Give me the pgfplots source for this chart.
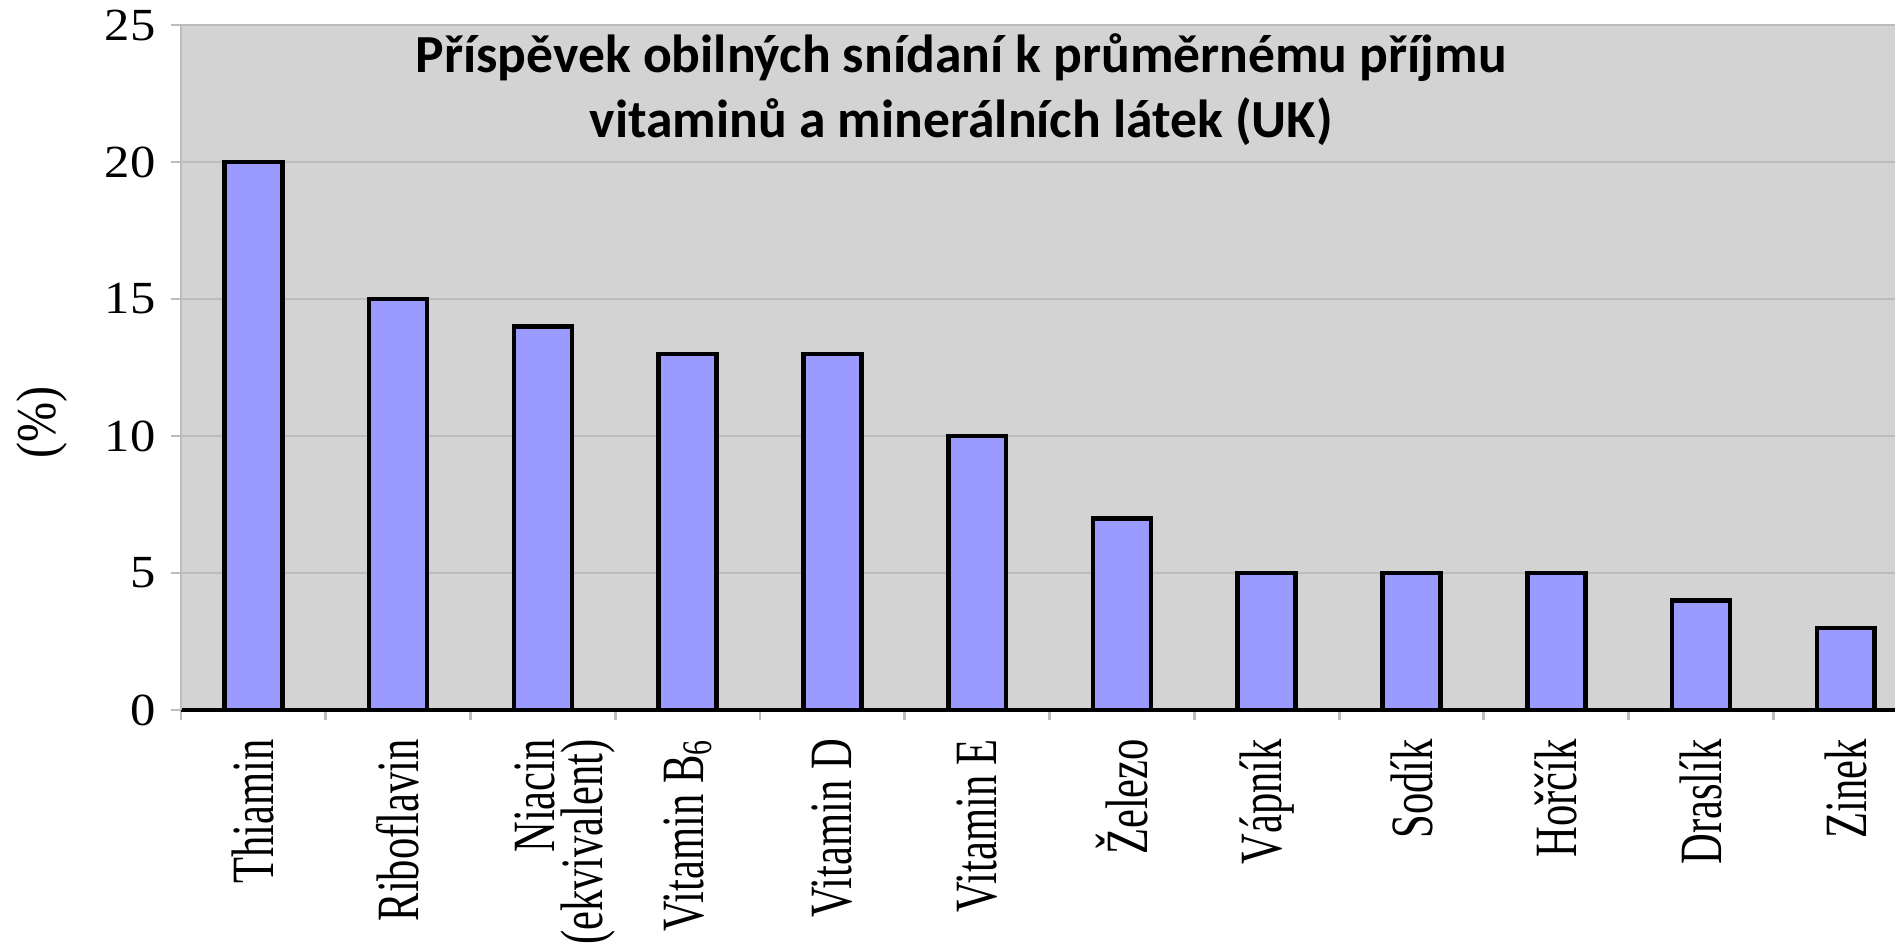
\documentclass[border=0pt]{standalone}
\usepackage{pgfplots}
\pgfplotsset{compat=1.18}
\usepackage{fontspec}
\setmainfont{Liberation Serif}
\newfontfamily\titlefont{Carlito}
\definecolor{plotbg}{RGB}{211,211,211}
\definecolor{barfill}{RGB}{155,155,255}
\definecolor{gridgray}{RGB}{188,188,188}

\tikzset{xlab/.style={rotate=90, xscale=0.71, anchor=east, align=center,
    font=\fontsize{15}{12}\selectfont}}

\begin{document}
\begin{tikzpicture}
\path[use as bounding box] (-45.25pt,-59.25pt) rectangle (428.5pt,177.5pt);
\clip (-45.25pt,-59.25pt) rectangle (428.5pt,177.5pt);
\begin{axis}[
    at={(0,0)}, anchor=south west,
    scale only axis,
    width=428.5pt, height=171.25pt,
    clip=false,
    ybar, bar width=0.4,
    xmin=-0.5, xmax=11.34,
    ymin=0, ymax=25,
    ytick={0,5,...,25},
    axis lines*=left,
    x axis line style={black, line width=0.8pt},
    y axis line style={draw=gridgray, line width=0.7pt},
    axis background/.style={fill=plotbg},
    ymajorgrids,
    grid style={gridgray, line width=0.7pt},
    tick align=outside,
    major tick length=2.5pt,
    ytick style={draw=gridgray, line width=0.7pt},
    xtick={-0.5,0.5,...,11.5},
    xticklabels={},
    xtick style={draw=gridgray, line width=0.7pt},
    extra x ticks={0,...,11},
    extra x tick labels={Thiamin,Riboflavin,{},Vitamin B\textsubscript{6},Vitamin D,Vitamin E,Železo,Vápník,Sodík,Hořčík,Draslík,Zinek},
    extra x tick style={major tick length=0pt},
    xticklabel style={yshift=-4.75pt, xlab},
    yticklabel style={xscale=1.1, font=\fontsize{11.5}{13}\selectfont},
    /pgf/number format/assume math mode=true,
]
\addplot[draw=black, line width=1.15pt, fill=barfill] coordinates {
    (0,20) (1,15) (2,14) (3,13) (4,13) (5,10)
    (6,7) (7,5) (8,5) (9,5) (10,4) (11,3)
};

% two-line label, both lines start at the axis as in the original
\node[xlab, align=right] at ([xshift=5.5pt, yshift=-4.75pt]axis cs:2,0)
    {Niacin\\(ekvivalent)};

\node[font=\titlefont\bfseries\fontsize{13.4}{16.25}\selectfont, align=center]
    at (axis cs:4.89,22.65)
    {Příspěvek obilných snídaní k průměrnému příjmu\\vitaminů a minerálních látek (UK)};
\node[rotate=90, xscale=0.86, font=\fontsize{14}{16}\selectfont]
    at ([xshift=-34.75pt]rel axis cs:0,0.42) {(\%)};
\end{axis}
\end{tikzpicture}
\end{document}
